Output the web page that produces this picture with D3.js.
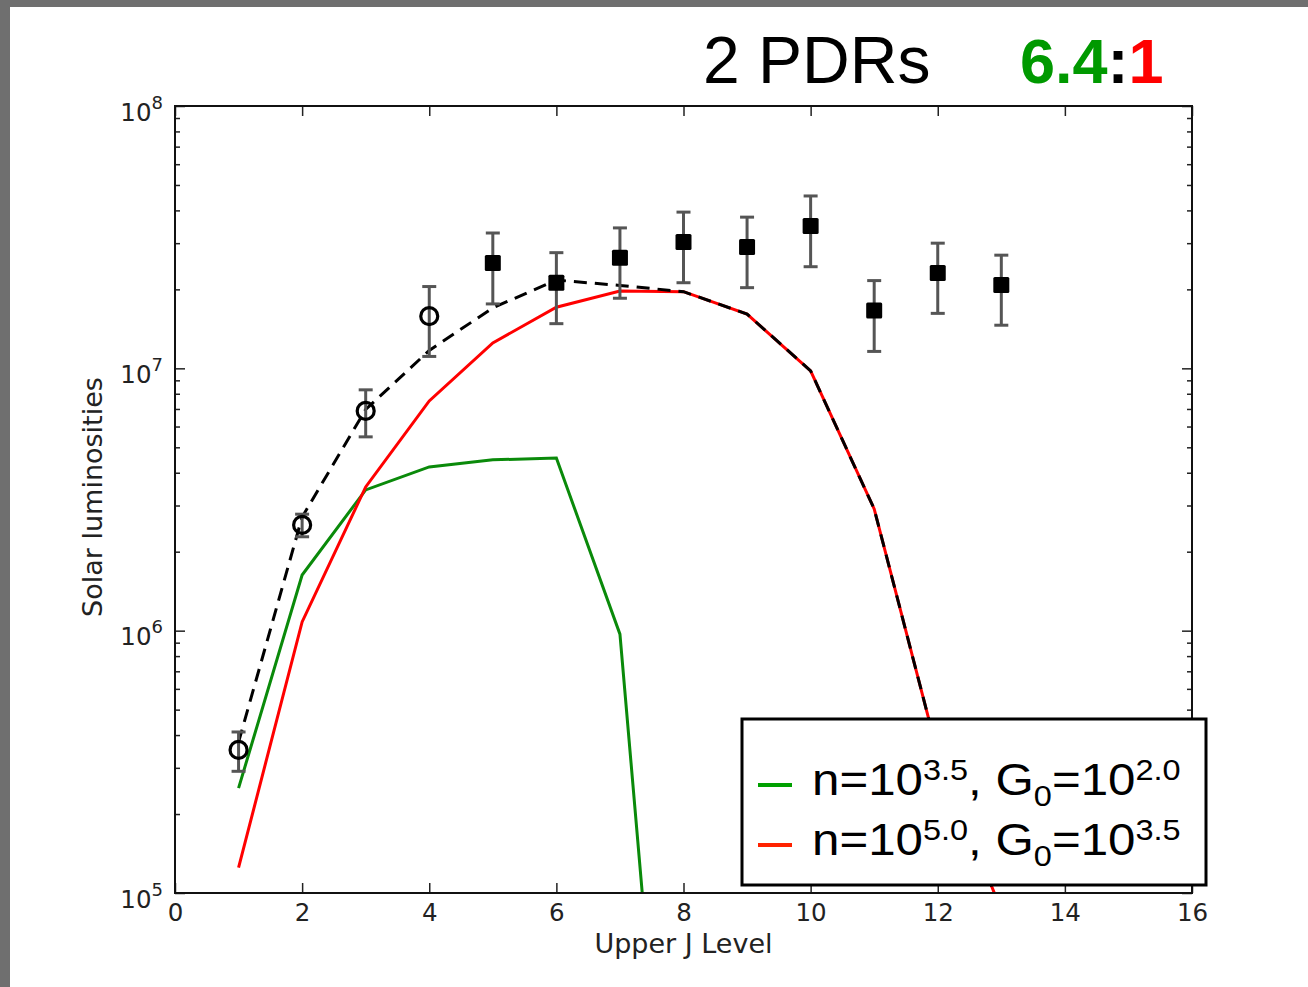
<!DOCTYPE html>
<html>
<head>
<meta charset="utf-8">
<script src="https://cdn.jsdelivr.net/npm/d3@7"></script>
<style>
  html, body { margin: 0; padding: 0; background: #fff; }
  svg { display: block; }
</style>
</head>
<body>
<svg id="vis" width="1308" height="987"></svg>
<script>
// upper J levels
var jLevels = [1, 2, 3, 4, 5, 6, 7, 8, 9, 10, 11, 12, 13];

// PDR model 1: n=10^3.5, G0=10^2.0 (green)
var greenJ = [1, 2, 3, 4, 5, 6, 7, 8];
var greenLum = [2.51e5, 1.63e6, 3.44e6, 4.21e6, 4.48e6, 4.55e6, 9.7e5, 1.5e3];

// PDR model 2: n=10^5.0, G0=10^3.5 (red)
var redLum = [1.25e5, 1.08e6, 3.53e6, 7.51e6, 1.25e7, 1.71e7, 1.97e7,
              1.96e7, 1.61e7, 9.78e6, 2.91e6, 3.4e5, 8.6e4];

// combined model (dashed)
var totalLum = [3.76e5, 2.71e6, 6.97e6, 1.17e7, 1.70e7, 2.17e7, 2.07e7,
                1.96e7, 1.61e7, 9.78e6, 2.91e6, 3.4e5, 8.6e4];

// observed luminosities, errors and marker style
var obsLum = [3.51e5, 2.53e6, 6.88e6, 1.58e7, 2.52e7, 2.12e7, 2.64e7,
              3.03e7, 2.90e7, 3.49e7, 1.66e7, 2.31e7, 2.08e7];
var obsErr = [0.6e5, 0.25e6, 1.4e6, 4.7e6, 7.6e6, 6.4e6, 7.9e6,
              9.1e6, 8.7e6, 1.05e7, 5.0e6, 6.9e6, 6.2e6];
var obsShape = ['o', 'o', 'o', 'o', 's', 's', 's', 's', 's', 's', 's', 's', 's'];

var xTicks = [0, 2, 4, 6, 8, 10, 12, 14, 16];
var yMajor = [1e5, 1e6, 1e7, 1e8];
var yMinor = [2e5, 3e5, 4e5, 5e5, 6e5, 7e5, 8e5, 9e5,
              2e6, 3e6, 4e6, 5e6, 6e6, 7e6, 8e6, 9e6,
              2e7, 3e7, 4e7, 5e7, 6e7, 7e7, 8e7, 9e7];

var legendLabels = [
  { color: '#00a000', n: '3.5', g: '2.0' },
  { color: '#ff2200', n: '5.0', g: '3.5' }
];

var prefs = {
  left: 175, right: 1192, top: 106, bottom: 893,
  green: '#0a8a0a',
  red: '#ff0000',
  tickFont: 'DejaVu Sans, sans-serif',
  textFont: 'Liberation Sans, Arial, sans-serif'
};

var svg = d3.select('#vis');

// grey frame of the slide
svg.append('rect').attr('x', 0).attr('y', 0).attr('width', 1308).attr('height', 7).attr('fill', '#6f6f6f');
svg.append('rect').attr('x', 0).attr('y', 0).attr('width', 10).attr('height', 987).attr('fill', '#6f6f6f');

var x = d3.scaleLinear().domain([0, 16]).range([prefs.left, prefs.right]);
var y = d3.scaleLog().domain([1e5, 1e8]).range([prefs.bottom, prefs.top]);

svg.append('defs').append('clipPath').attr('id', 'plotClip')
  .append('rect')
    .attr('x', prefs.left).attr('y', prefs.top)
    .attr('width', prefs.right - prefs.left)
    .attr('height', prefs.bottom - prefs.top);

/* Axes: inward ticks on all four sides */
function styleAxis(g) {
  g.select('.domain').remove();
  g.selectAll('.tick line').attr('stroke', '#222').attr('stroke-width', 1.5);
  g.selectAll('text').attr('fill', '#222').attr('font-family', prefs.tickFont).attr('font-size', 24.5);
}

svg.append('g')
  .attr('transform', 'translate(0,' + prefs.bottom + ')')
  .call(d3.axisBottom(x).tickValues(xTicks).tickSize(-10).tickPadding(11).tickFormat(d3.format('d')))
  .call(styleAxis);

svg.append('g')
  .attr('transform', 'translate(0,' + prefs.top + ')')
  .call(d3.axisTop(x).tickValues(xTicks).tickSize(-10).tickFormat(''))
  .call(styleAxis);

var yLeft = svg.append('g')
  .attr('transform', 'translate(' + prefs.left + ',0)')
  .call(d3.axisLeft(y).tickValues(yMajor).tickSize(-10).tickPadding(10).tickFormat(''))
  .call(styleAxis);

svg.append('g')
  .attr('transform', 'translate(' + prefs.left + ',0)')
  .call(d3.axisLeft(y).tickValues(yMinor).tickSize(-5).tickFormat(''))
  .call(styleAxis);

svg.append('g')
  .attr('transform', 'translate(' + prefs.right + ',0)')
  .call(d3.axisRight(y).tickValues(yMajor).tickSize(-10).tickFormat(''))
  .call(styleAxis);

svg.append('g')
  .attr('transform', 'translate(' + prefs.right + ',0)')
  .call(d3.axisRight(y).tickValues(yMinor).tickSize(-5).tickFormat(''))
  .call(styleAxis);

/* 10^k labels with superscript */
yLeft.selectAll('.tick').each(function(d) {
  var t = d3.select(this).select('text')
    .attr('dy', null)
    .attr('y', 14)
    .attr('x', -12);
  t.append('tspan').text('10');
  t.append('tspan').attr('font-size', 18).attr('dy', -12).text(Math.round(Math.log10(d)));
});

/* Axis labels */
svg.append('text')
  .attr('x', (prefs.left + prefs.right) / 2).attr('y', 953)
  .attr('text-anchor', 'middle')
  .attr('font-family', prefs.tickFont).attr('font-size', 27).attr('fill', '#222')
  .text('Upper J Level');

svg.append('text')
  .attr('transform', 'translate(102,497) rotate(-90)')
  .attr('text-anchor', 'middle')
  .attr('font-family', prefs.tickFont).attr('font-size', 27).attr('fill', '#222')
  .text('Solar luminosities');

/* Model lines */
var plot = svg.append('g').attr('clip-path', 'url(#plotClip)');

var line = d3.line()
  .x(function(d) { return x(d[0]); })
  .y(function(d) { return y(d[1]); });

plot.append('path')
  .attr('d', line(d3.zip(greenJ, greenLum)))
  .attr('fill', 'none').attr('stroke', prefs.green).attr('stroke-width', 3);

plot.append('path')
  .attr('d', line(d3.zip(jLevels, redLum)))
  .attr('fill', 'none').attr('stroke', prefs.red).attr('stroke-width', 3);

plot.append('path')
  .attr('d', line(d3.zip(jLevels, totalLum)))
  .attr('fill', 'none').attr('stroke', '#000').attr('stroke-width', 3)
  .attr('stroke-dasharray', '13,8');

/* Observations with error bars */
var obs = jLevels.map(function(j, i) {
  return { j: j, v: obsLum[i], e: obsErr[i], shape: obsShape[i] };
});

var bars = plot.selectAll('.errbar').data(obs).enter().append('g')
  .classed('errbar', true)
  .attr('stroke', '#555').attr('stroke-width', 3);

bars.append('line')
  .attr('x1', function(d) { return x(d.j); })
  .attr('x2', function(d) { return x(d.j); })
  .attr('y1', function(d) { return y(d.v + d.e); })
  .attr('y2', function(d) { return y(d.v - d.e); });

[1, -1].forEach(function(s) {
  bars.append('line')
    .attr('x1', function(d) { return x(d.j) - 7; })
    .attr('x2', function(d) { return x(d.j) + 7; })
    .attr('y1', function(d) { return y(d.v + s * d.e); })
    .attr('y2', function(d) { return y(d.v + s * d.e); });
});

plot.selectAll('.open').data(obs.filter(function(d) { return d.shape === 'o'; }))
  .enter().append('circle')
    .classed('open', true)
    .attr('cx', function(d) { return x(d.j); })
    .attr('cy', function(d) { return y(d.v); })
    .attr('r', 8.5)
    .attr('fill', 'none').attr('stroke', '#000').attr('stroke-width', 3.2);

plot.selectAll('.square').data(obs.filter(function(d) { return d.shape === 's'; }))
  .enter().append('rect')
    .classed('square', true)
    .attr('x', function(d) { return x(d.j) - 8; })
    .attr('y', function(d) { return y(d.v) - 8; })
    .attr('width', 16).attr('height', 16)
    .attr('rx', 1.5)
    .attr('fill', '#000');

/* Plot frame */
svg.append('rect')
  .attr('x', prefs.left).attr('y', prefs.top)
  .attr('width', prefs.right - prefs.left).attr('height', prefs.bottom - prefs.top)
  .attr('fill', 'none').attr('stroke', '#111').attr('stroke-width', 2);

/* Legend (text is slightly stretched horizontally in the original) */
var legend = svg.append('g');
legend.append('rect')
  .attr('x', 742).attr('y', 719).attr('width', 464).attr('height', 166)
  .attr('fill', '#fff').attr('stroke', '#000').attr('stroke-width', 3);

legendLabels.forEach(function(l, i) {
  var base = 795 + i * 60;
  legend.append('line')
    .attr('x1', 758).attr('x2', 792)
    .attr('y1', base - 10).attr('y2', base - 10)
    .attr('stroke', l.color).attr('stroke-width', 4);

  var t = legend.append('text')
    .attr('transform', 'translate(812,' + base + ') scale(1.12,1)')
    .attr('font-family', prefs.textFont).attr('font-size', 44).attr('fill', '#000');
  t.append('tspan').text('n=10');
  t.append('tspan').attr('font-size', 29).attr('dy', -15).text(l.n);
  t.append('tspan').attr('dy', 15).text(', G');
  t.append('tspan').attr('font-size', 29).attr('dy', 11).text('0');
  t.append('tspan').attr('dy', -11).text('=10');
  t.append('tspan').attr('font-size', 29).attr('dy', -15).text(l.g);
});

/* Title */
svg.append('text')
  .attr('x', 703).attr('y', 83)
  .attr('font-family', prefs.textFont).attr('font-size', 66).attr('fill', '#000')
  .text('2 PDRs');

var ratio = svg.append('text')
  .attr('x', 1020).attr('y', 83)
  .attr('font-family', prefs.textFont).attr('font-size', 63).attr('font-weight', 'bold');
ratio.append('tspan').attr('fill', '#009900').text('6.4');
ratio.append('tspan').attr('fill', '#000').text(':');
ratio.append('tspan').attr('fill', '#ff0000').text('1');
</script>
</body>
</html>
